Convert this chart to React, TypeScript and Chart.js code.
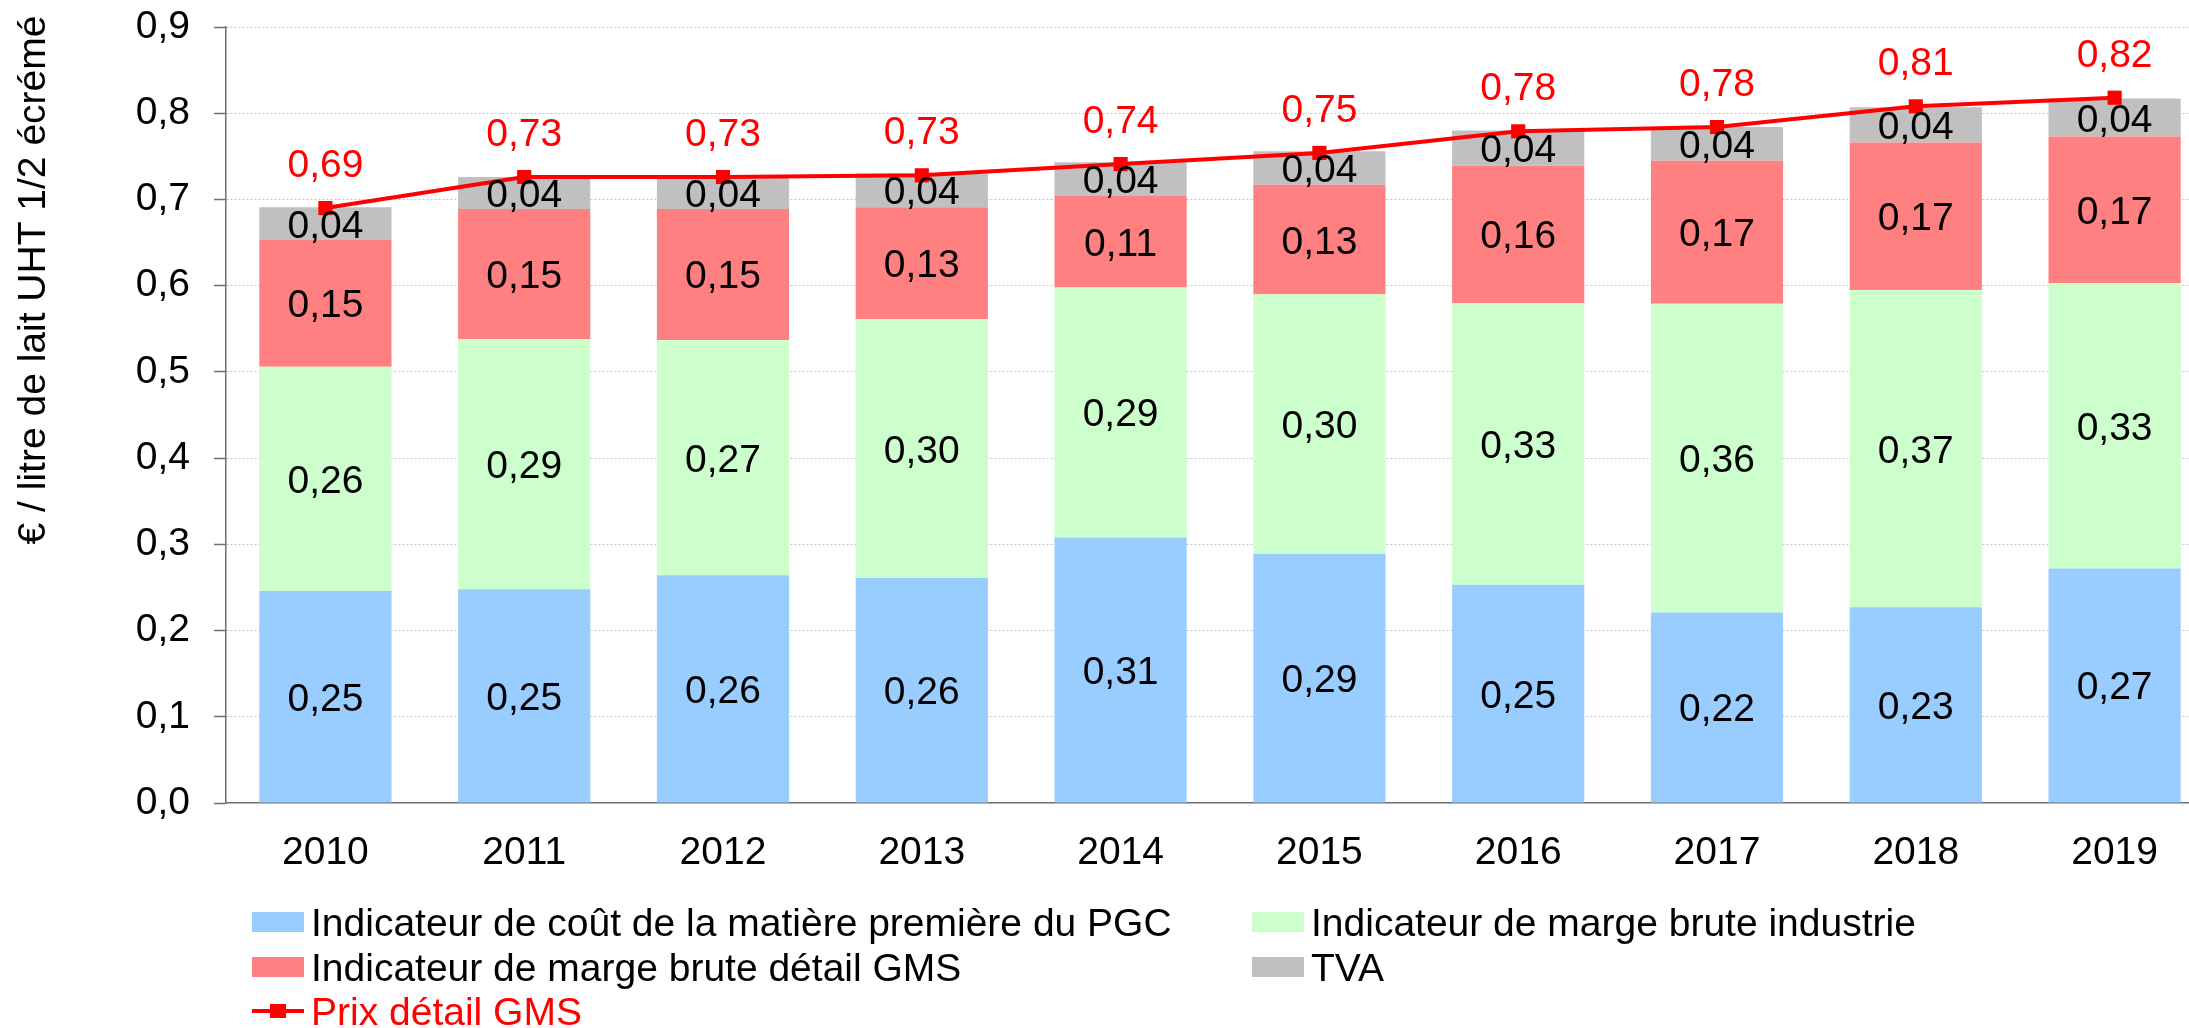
import { useEffect, useRef } from 'react';
import { Chart, registerables } from 'chart.js';

Chart.register(...registerables);

const years = ['2010', '2011', '2012', '2013', '2014', '2015', '2016', '2017', '2018', '2019'];
const matiere = [0.246, 0.248, 0.264, 0.261, 0.308, 0.289, 0.253, 0.221, 0.227, 0.272];
const industrie = [0.260, 0.290, 0.273, 0.300, 0.290, 0.301, 0.327, 0.358, 0.368, 0.331];
const detail = [0.147, 0.151, 0.152, 0.130, 0.106, 0.127, 0.159, 0.166, 0.171, 0.170];
const tva = [0.038, 0.037, 0.037, 0.039, 0.039, 0.039, 0.041, 0.039, 0.041, 0.044];
const prix = [0.690, 0.726, 0.726, 0.728, 0.741, 0.754, 0.779, 0.784, 0.808, 0.818];

const seriesNames = [
  'Indicateur de coût de la matière première du PGC',
  'Indicateur de marge brute industrie',
  'Indicateur de marge brute détail GMS',
  'TVA',
  'Prix détail GMS',
];
const yTitle = '€ / litre de lait UHT 1/2 écrémé';

const FONT = '"Liberation Sans", Arial, sans-serif';
const W = 2240;
const H = 1028;

const fmt = (v: number) => v.toFixed(2).replace('.', ',');

export default function App() {
  const ref = useRef<HTMLCanvasElement>(null);

  useEffect(() => {
    const canvas = ref.current;
    if (!canvas) return;

    const valueLabels = {
      id: 'valueLabels',
      afterDatasetsDraw(chart: any) {
        const ctx = chart.ctx;
        ctx.save();
        ctx.font = `39px ${FONT}`;
        ctx.textAlign = 'center';
        ctx.textBaseline = 'alphabetic';
        chart.data.datasets.forEach((ds: any, i: number) => {
          const meta = chart.getDatasetMeta(i);
          meta.data.forEach((el: any, j: number) => {
            const v = ds.data[j] as number;
            if (ds.type === 'line') {
              ctx.fillStyle = '#FF0000';
              ctx.fillText(fmt(v), el.x, el.y - 45 + 14);
            } else {
              const p = el.getProps(['x', 'y', 'base'], true);
              ctx.fillStyle = '#000000';
              ctx.fillText(fmt(v), p.x, (p.y + p.base) / 2 + 14);
            }
          });
        });
        ctx.restore();
      },
    };

    const extras = {
      id: 'extras',
      afterDraw(chart: any) {
        const ctx = chart.ctx;
        ctx.save();
        // y axis title
        ctx.font = `39px ${FONT}`;
        ctx.fillStyle = '#000000';
        ctx.translate(45, 280);
        ctx.rotate(-Math.PI / 2);
        ctx.textAlign = 'center';
        ctx.textBaseline = 'alphabetic';
        ctx.fillText(yTitle, 0, 0);
        ctx.restore();

        // legend: bars first (two columns), then the line
        ctx.save();
        ctx.font = `39px ${FONT}`;
        ctx.textAlign = 'left';
        ctx.textBaseline = 'alphabetic';
        const cols = [252, 1252];
        const rows = [922, 967, 1011];
        const boxW = 52;
        const boxH = 20;
        const legendOrder = [1, 2, 3, 4, 0];
        legendOrder.forEach((dsIndex: number, k: number) => {
          const ds: any = chart.data.datasets[dsIndex];
          const col = cols[k % 2];
          const row = rows[Math.floor(k / 2)];
          if (ds.type === 'line') {
            ctx.strokeStyle = ds.borderColor;
            ctx.lineWidth = 4;
            ctx.beginPath();
            ctx.moveTo(col, row);
            ctx.lineTo(col + boxW, row);
            ctx.stroke();
            ctx.fillStyle = ds.borderColor;
            ctx.fillRect(col + boxW / 2 - 8, row - 7, 16, 14);
            ctx.fillStyle = '#FF0000';
          } else {
            ctx.fillStyle = ds.backgroundColor;
            ctx.fillRect(col, row - boxH / 2, boxW, boxH);
            ctx.fillStyle = '#000000';
          }
          ctx.fillText(ds.label, col + boxW + 7, row + 14);
        });
        ctx.restore();
      },
    };

    const chart = new Chart(canvas, {
      type: 'bar',
      data: {
        labels: years,
        datasets: [
          {
            type: 'line',
            label: seriesNames[4],
            data: prix,
            stack: 'prix',
            borderColor: '#FF0000',
            backgroundColor: '#FF0000',
            borderWidth: 4,
            pointStyle: 'rect',
            pointRadius: 10,
            pointBorderWidth: 0,
            pointBackgroundColor: '#FF0000',
            tension: 0,
            order: 0,
          } as any,
          { type: 'bar', label: seriesNames[0], data: matiere, backgroundColor: '#99CCFF', order: 1, stack: 'bars' },
          { type: 'bar', label: seriesNames[1], data: industrie, backgroundColor: '#CCFFCC', order: 1, stack: 'bars' },
          { type: 'bar', label: seriesNames[2], data: detail, backgroundColor: '#FF8080', order: 1, stack: 'bars' },
          { type: 'bar', label: seriesNames[3], data: tva, backgroundColor: '#C0C0C0', order: 1, stack: 'bars' },
        ],
      },
      options: {
        animation: false,
        responsive: false,
        devicePixelRatio: 1,
        datasets: {
          bar: { categoryPercentage: 1, barPercentage: 0.665, borderWidth: 0 },
        },
        layout: { padding: { left: 0, right: W - 2214, top: 27, bottom: H - 803 - 100 } },
        plugins: {
          legend: { display: false },
          tooltip: { enabled: false },
          title: { display: false },
        },
        scales: {
          x: {
            stacked: true,
            grid: { display: false },
            border: { display: true, color: '#6e6e6e', width: 1.5 },
            ticks: { color: '#000000', font: { family: FONT, size: 39 }, padding: 19, maxRotation: 0 },
            afterFit: (s: any) => { s.height = 100; },
          },
          y: {
            stacked: true,
            min: 0,
            max: 0.9,
            border: { display: true, color: '#6e6e6e', width: 1.5, dash: [2, 2] },
            grid: {
              color: (c: any) => (c.tick && c.tick.value === 0 ? 'rgba(0,0,0,0)' : '#c4c4c4'),
              lineWidth: 1,
              tickLength: 12,
              tickColor: '#6e6e6e',
              tickWidth: 1.5,
              tickBorderDash: [],
            },
            ticks: {
              stepSize: 0.1,
              color: '#000000',
              font: { family: FONT, size: 39 },
              padding: 24,
              callback: (v: any) => Number(v).toFixed(1).replace('.', ','),
            },
            afterFit: (s: any) => {
              s.width = 226;
              s.paddingTop = 0;
              s.paddingBottom = 0;
            },
          },
        },
      },
      plugins: [valueLabels, extras],
    });

    return () => chart.destroy();
  }, []);

  return (
    <div style={{ position: 'fixed', left: 0, top: 0, width: '100vw', height: '100vh', overflow: 'hidden', background: '#ffffff' }}>
      <canvas ref={ref} width={W} height={H} style={{ display: 'block', width: W, height: H }} />
    </div>
  );
}
